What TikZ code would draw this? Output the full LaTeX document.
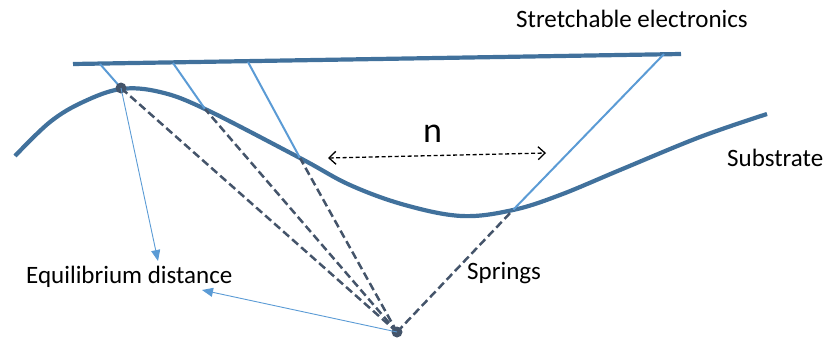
\documentclass[tikz,border=0pt]{standalone}
\usepackage{fontspec}
\setmainfont{Carlito}
\usetikzlibrary{arrows.meta}
\definecolor{substrateblue}{HTML}{41719C}
\definecolor{springblue}{HTML}{5B9BD5}
\definecolor{slate}{HTML}{44546A}

\begin{document}
\begin{tikzpicture}[x=1pt,y=-1pt,
  label/.style={inner sep=0pt,anchor=base west,font=\fontsize{25}{30}\selectfont},
  sheet/.style={substrateblue,line width=4.2pt},
  spring/.style={springblue,line width=2pt},
  tether/.style={slate,line width=2.5pt,dash pattern=on 8pt off 4pt},
  pointer/.style={springblue,line width=0.9pt,-{Triangle[length=11pt,width=9pt]}},
  pin/.style={circle,fill=slate,inner sep=0pt,minimum size=11pt}]
  \useasboundingbox (0,0) rectangle (826,341);
  % electronics layer and substrate
  \coordinate (el) at (73,64);
  \coordinate (er) at (681,54);
  \draw[sheet] (el) -- (er);
  \draw[sheet] plot[smooth,tension=0.6] coordinates {(15,156) (50,122) (83,102) (121,89) (160,92)
    (205,109) (300,158) (350,185) (405,205) (462,216) (513,210) (560,195) (620,170)
    (700,137) (767,114)};
  % attachment points
  \coordinate (s1) at (121,88);
  \coordinate (s2) at (205,109);
  \coordinate (s3) at (300,158);
  \coordinate (s4) at (513,210);
  \coordinate (t1) at (100,64);
  \coordinate (t2) at (173,63);
  \coordinate (t3) at (248,62);
  \coordinate (t4) at (664,54);
  \foreach \i in {1,...,4}
    \draw[spring] (t\i) -- (s\i);
  % springs to the base point
  \node[pin] (base) at (397,332) {};
  \foreach \i in {1,...,4}
    \draw[tether] (base.center) -- (s\i);
  \node[pin] (top) at (121,88) {};
  % labels
  \node[label] (elec) at (516,27) {Stretchable electronics};
  \node[label] (subs) at (727,166) {Substrate};
  \node[label] (equi) at (26,283) {Equilibrium distance};
  \node[label] (spr) at (467,279) {Springs};
  \node[inner sep=0pt,anchor=base west,font=\fontsize{36}{42}\selectfont] (n) at (423,142) {n};
  \coordinate (nl) at (328,158);
  \coordinate (nr) at (546,153);
  \draw[black,line width=1.3pt,dash pattern=on 4pt off 2.5pt,
    {Straight Barb[length=7pt,width=13pt]}-{Straight Barb[length=7pt,width=13pt]}] (nl) -- (nr);
  \coordinate (p1) at (158,261);
  \coordinate (p2) at (202,290);
  \draw[pointer] (top.center) -- (p1);
  \draw[pointer] (base.center) -- (p2);
\end{tikzpicture}
\end{document}
